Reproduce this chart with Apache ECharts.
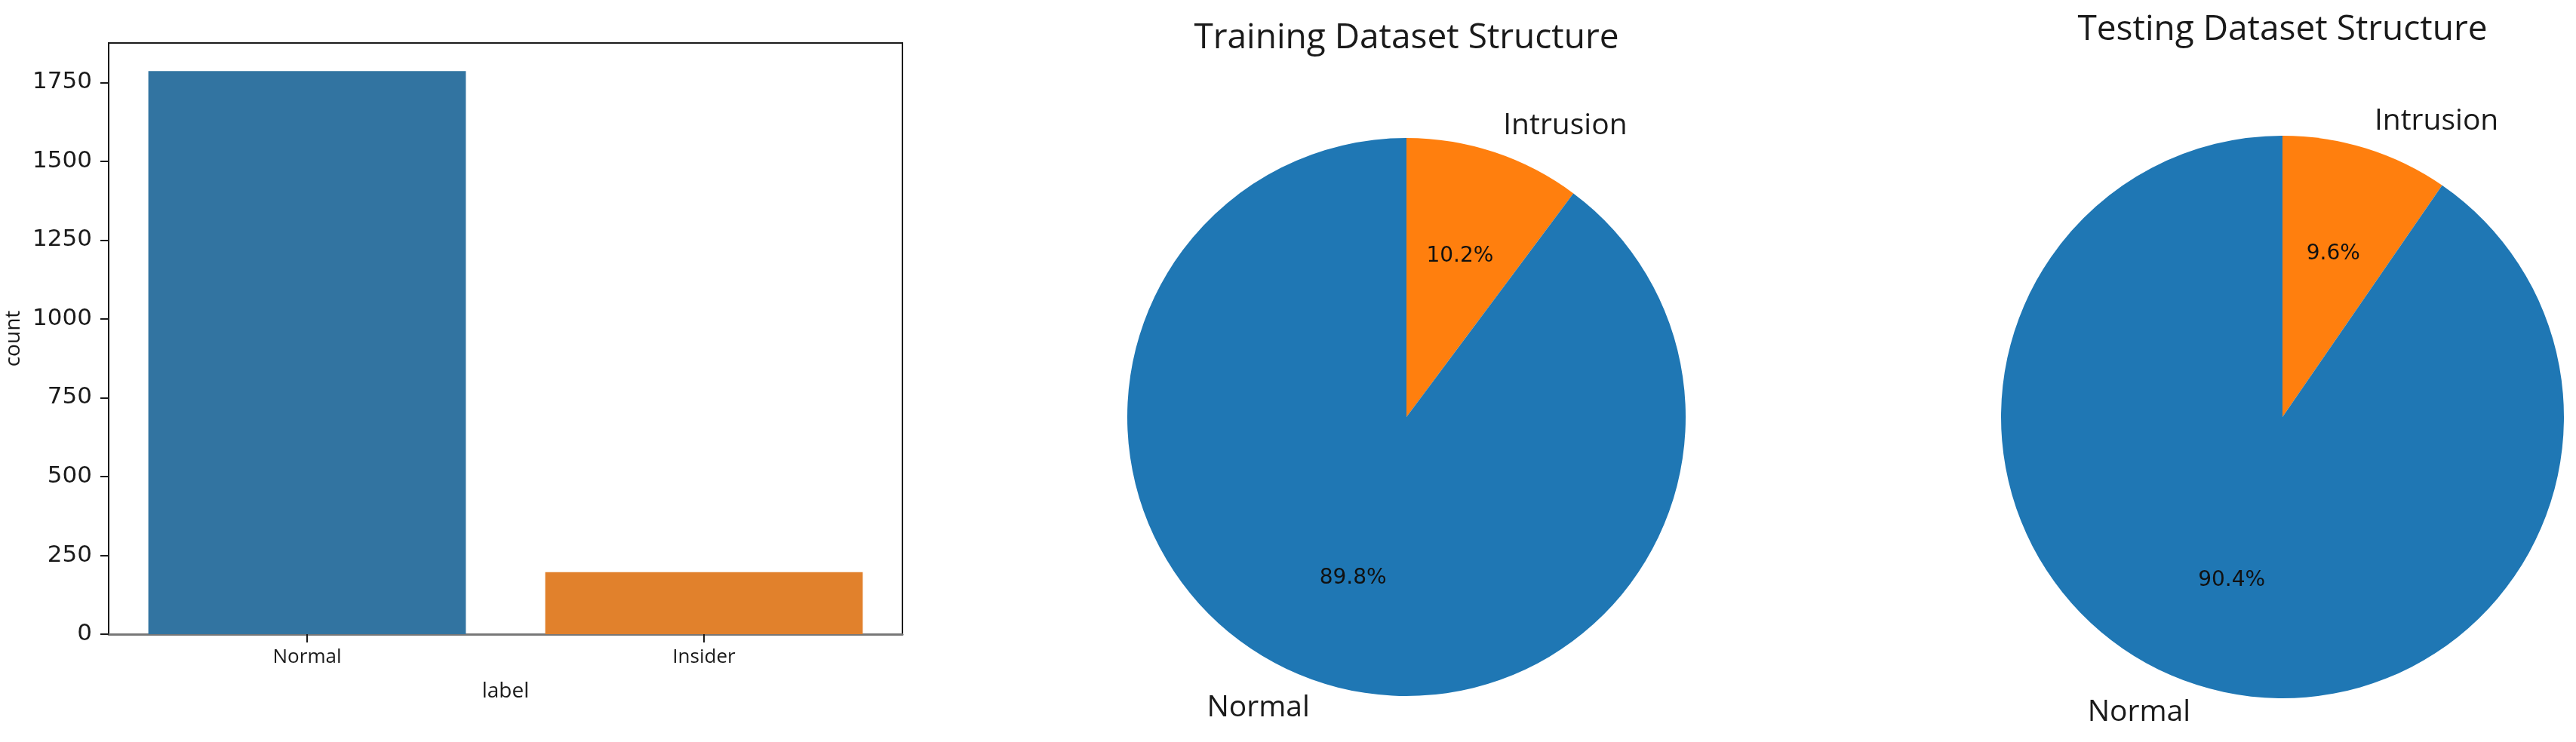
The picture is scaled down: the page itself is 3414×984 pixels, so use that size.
<!DOCTYPE html>
<html>
<head>
<meta charset="utf-8">
<script src="https://cdn.jsdelivr.net/npm/echarts@6/dist/echarts.min.js"></script>
<style>
html,body{margin:0;padding:0;background:#fff;}
#chart{width:3414px;height:984px;}
</style>
</head>
<body>
<div id="chart"></div>
<script>
// ---- data ----
const barCategories = ['Normal', 'Insider'];
const barCounts = [1786, 197];
const barColors = ['#3274a1', '#e1812c'];
const yTicks = [0, 250, 500, 750, 1000, 1250, 1500, 1750];

const pieNames = ['Intrusion', 'Normal'];
const pieColors = ['#ff7f0e', '#1f77b4'];
const trainShares = [10.2, 89.8];
const testShares = [9.6, 90.4];
const trainTitle = 'Training Dataset Structure';
const testTitle = 'Testing Dataset Structure';

// ---- layout ----
const SANS = '"Open Sans", "Noto Sans", sans-serif';
const DEJA = '"DejaVu Sans", sans-serif';
const trainPie = { cx: 1864, cy: 553, r: 370 };
const testPie = { cx: 3025, cy: 553, r: 373 };

function pieData(shares) {
  return shares.map((v, i) => ({ name: pieNames[i], value: v, itemStyle: { color: pieColors[i] } }));
}
function pieSeries(p, shares) {
  return [
    {
      type: 'pie', silent: true, center: [p.cx, p.cy], radius: [0, p.r],
      startAngle: 90, clockwise: true, avoidLabelOverlap: false,
      data: pieData(shares),
      label: { show: true, position: 'outside', formatter: '{b}', fontFamily: SANS, fontSize: 39, color: '#1a1a1a', distanceToLabelLine: 0 },
      labelLine: { show: false, length: p.r * 0.1, length2: 0 },
      emphasis: { disabled: true }
    },
    {
      type: 'pie', silent: true, center: [p.cx, p.cy], radius: [p.r * 0.2, p.r],
      startAngle: 90, clockwise: true, avoidLabelOverlap: false, percentPrecision: 1,
      data: pieData(shares).map(d => Object.assign({}, d, { itemStyle: { color: 'rgba(0,0,0,0)' } })),
      label: { show: true, position: 'inside', formatter: '{d}%', fontFamily: DEJA, fontSize: 28, color: '#111' },
      labelLine: { show: false },
      emphasis: { disabled: true }
    }
  ];
}

const chart = echarts.init(document.getElementById('chart'), null, { renderer: 'canvas' });
chart.setOption({
  backgroundColor: '#fff',
  animation: false,
  title: [
    { text: trainTitle, left: trainPie.cx, top: 28, textAlign: 'center', padding: 0,
      textStyle: { fontFamily: SANS, fontSize: 46, fontWeight: 'normal', color: '#1a1a1a' } },
    { text: testTitle, left: testPie.cx, top: 17, textAlign: 'center', padding: 0,
      textStyle: { fontFamily: SANS, fontSize: 46, fontWeight: 'normal', color: '#1a1a1a' } }
  ],
  grid: { left: 144, top: 57, width: 1052, height: 784, show: true, borderColor: '#1a1a1a', borderWidth: 2, backgroundColor: 'transparent' },
  xAxis: {
    type: 'category', data: barCategories,
    axisLine: { show: true, lineStyle: { color: '#777', width: 3 } },
    axisTick: { show: true, alignWithLabel: true, length: 11, lineStyle: { color: '#1a1a1a', width: 2 } },
    axisLabel: { margin: 18, fontFamily: SANS, fontSize: 26, color: '#1a1a1a' },
    name: 'label', nameLocation: 'middle', nameGap: 62,
    nameTextStyle: { fontFamily: SANS, fontSize: 28, color: '#1a1a1a' }
  },
  yAxis: {
    type: 'value', min: 0, max: 1875, interval: 250,
    splitLine: { show: false },
    axisLine: { show: true, lineStyle: { color: '#1a1a1a', width: 2 } },
    axisTick: { show: true, length: 11, lineStyle: { color: '#1a1a1a', width: 2 }, customValues: yTicks },
    axisLabel: { margin: 22, fontFamily: DEJA, fontSize: 31, color: '#1a1a1a', customValues: yTicks,
      formatter: v => String(v) },
    name: 'count', nameLocation: 'middle', nameGap: 112, nameRotate: 90,
    nameTextStyle: { fontFamily: SANS, fontSize: 28, color: '#1a1a1a' }
  },
  series: [
    {
      type: 'bar', barWidth: '80%', silent: true,
      data: barCounts.map((v, i) => ({ value: v, itemStyle: { color: barColors[i] } }))
    },
    ...pieSeries(trainPie, trainShares),
    ...pieSeries(testPie, testShares)
  ]
});
</script>
</body>
</html>
